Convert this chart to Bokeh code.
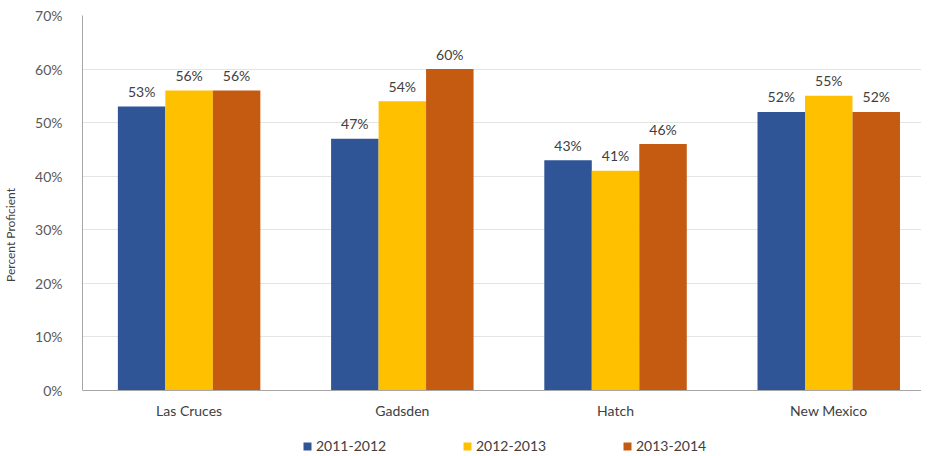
from bokeh.plotting import figure
from bokeh.models import Range1d, FixedTicker, Legend, LegendItem, ColumnDataSource, NumeralTickFormatter, Span
from bokeh.core.properties import value
from bokeh.embed import file_html
from bokeh.resources import INLINE

categories = ["Las Cruces", "Gadsden", "Hatch", "New Mexico"]
series = ["2011-2012", "2012-2013", "2013-2014"]
v2011 = [53, 47, 43, 52]
v2012 = [56, 54, 41, 55]
v2013 = [56, 60, 46, 52]
colors = ["#2F5597", "#FFC000", "#C55A11"]
y_ticks = [0, 10, 20, 30, 40, 50, 60, 70]

FONT = "Lato"
TXT = "#404040"
AXC = "#A6A6A6"

W, H = 921, 454
left, top = 73, 15
frame_w = W - left
frame_h = H - top
cat_px = 215.5
bar_w = 48 / cat_px
px_per_unit = 375 / 70.0
y_min = 70 - frame_h / px_per_unit

p = figure(width=W, height=H, output_backend="svg", toolbar_location=None,
           x_range=Range1d(0, frame_w / cat_px), y_range=Range1d(y_min, 70),
           min_border_left=left, min_border_right=0,
           min_border_top=top, min_border_bottom=0)
p.outline_line_color = None
p.background_fill_color = "white"
p.border_fill_color = "white"

renderers = []
offsets = [-bar_w, 0, bar_w]
for vals, col, off in zip([v2011, v2012, v2013], colors, offsets):
    xs = [i + 0.5 + off for i in range(len(categories))]
    src = ColumnDataSource(dict(x=xs, top=vals, lab=[f"{v}%" for v in vals]))
    r = p.vbar(x="x", top="top", bottom=0, width=bar_w, source=src, fill_color=col, line_color=None)
    renderers.append(r)
    p.text(x="x", y="top", text="lab", source=src, text_align="center", text_baseline="middle",
           y_offset=-15, text_font=value(FONT), text_font_size="14px", text_color=TXT)

# category labels
cat_src = ColumnDataSource(dict(x=[i + 0.5 for i in range(len(categories))],
                                y=[0] * len(categories), lab=categories))
p.text(x="x", y="y", text="lab", source=cat_src, text_align="center", text_baseline="middle",
       y_offset=20, text_font=value(FONT), text_font_size="14px", text_color=TXT)

# x axis line at 0
p.add_layout(Span(location=0, dimension="width", line_color=AXC, line_width=1))
p.xaxis.visible = False

# y axis
p.yaxis.ticker = FixedTicker(ticks=y_ticks)
p.yaxis.formatter = NumeralTickFormatter(format="0")
p.yaxis.major_label_overrides = {t: f"{t}%" for t in y_ticks}
p.yaxis.bounds = (0, 70)
p.yaxis.major_tick_line_color = None
p.yaxis.minor_tick_line_color = None
p.yaxis.axis_line_color = AXC
p.yaxis.major_label_text_font = FONT
p.yaxis.major_label_text_font_size = "14px"
p.yaxis.major_label_text_color = "#595959"
p.yaxis.major_label_standoff = 14
p.yaxis.axis_label = "Percent Proficient"
p.yaxis.axis_label_text_font = FONT
p.yaxis.axis_label_text_font_size = "12px"
p.yaxis.axis_label_text_font_style = "normal"
p.yaxis.axis_label_text_color = TXT
p.yaxis.axis_label_standoff = 14

p.xgrid.grid_line_color = None
p.ygrid.grid_line_color = "#E4E4E4"
p.ygrid.grid_line_width = 1

legend = Legend(items=[LegendItem(label=s, renderers=[r]) for s, r in zip(series, renderers)],
                orientation="horizontal", location=(220, 0),
                glyph_width=10, glyph_height=10, label_width=146, label_height=14,
                label_standoff=4, spacing=0, padding=0, margin=0,
                border_line_color=None, background_fill_alpha=0,
                label_text_font=FONT, label_text_font_size="14px", label_text_color=TXT)
p.add_layout(legend, "center")

open("out.html", "w").write(file_html(p, INLINE))
